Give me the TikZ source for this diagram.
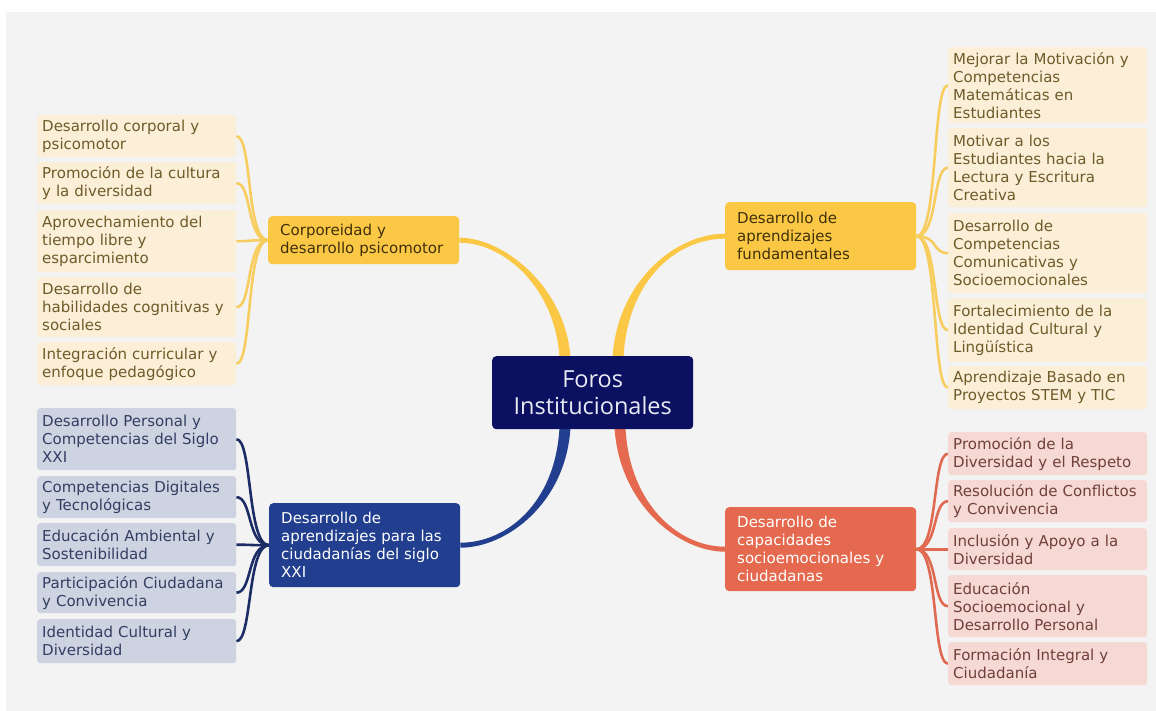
\documentclass[tikz,border=0pt]{standalone}
\usepackage{fontspec}
\setmainfont{DejaVu Sans}
\newfontfamily\centerfont{Open Sans}
\usetikzlibrary{calc}
\definecolor{bgc}{HTML}{F3F3F3}
\definecolor{mainY}{HTML}{FBC846}
\definecolor{txtMY}{HTML}{3F300A}
\definecolor{leafY}{HTML}{FBEFD8}
\definecolor{txtY}{HTML}{6E5B29}
\definecolor{lnY}{HTML}{F6CD5E}
\definecolor{mainB}{HTML}{213F8E}
\definecolor{leafB}{HTML}{CDD3E1}
\definecolor{txtB}{HTML}{333E62}
\definecolor{lnB}{HTML}{1C2C64}
\definecolor{mainC}{HTML}{E4694F}
\definecolor{leafC}{HTML}{F6D9D4}
\definecolor{txtC}{HTML}{713F3A}
\definecolor{lnC}{HTML}{E06A51}
\definecolor{centerc}{HTML}{0B1160}
\definecolor{centertxt}{HTML}{E8EAF4}
\pgfdeclarelayer{back}
\pgfsetlayers{back,main}
\begin{document}
\begin{tikzpicture}[x=1pt,y=-1pt,
  leaf/.style={rectangle, rounded corners=3pt, anchor=north west, text width=189pt,
    inner xsep=5pt, inner ysep=2pt, align=left, font=\fontsize{15}{18}\selectfont},
  lY/.style={leaf, fill=leafY, text=txtY},
  lB/.style={leaf, fill=leafB, text=txtB},
  lC/.style={leaf, fill=leafC, text=txtC},
  mainbox/.style={rectangle, rounded corners=4pt, anchor=north west, text width=167pt,
    inner xsep=12pt, inner ysep=2pt, align=left, font=\fontsize{15}{18}\selectfont},
  twig/.style={line width=2.6pt}
]
\useasboundingbox (0,0) rectangle (1156,711);

% leaves: corporeidad
\node[lY, minimum height=42] (y1) at (37,115) {Desarrollo corporal y\\psicomotor};
\node[lY, minimum height=42] (y2) at (37,162) {Promoción de la cultura\\y la diversidad};
\node[lY, minimum height=62] (y3) at (37,210) {Aprovechamiento del\\tiempo libre y\\esparcimiento};
\node[lY, minimum height=60] (y4) at (37,277) {Desarrollo de\\habilidades cognitivas y\\sociales};
\node[lY, minimum height=43] (y5) at (37,342) {Integración curricular y\\enfoque pedagógico};
% leaves: ciudadanias
\node[lB, minimum height=62] (b1) at (37,408) {Desarrollo Personal y\\Competencias del Siglo\\XXI};
\node[lB, minimum height=42] (b2) at (37,476) {Competencias Digitales\\y Tecnológicas};
\node[lB, minimum height=43] (b3) at (37,523) {Educación Ambiental y\\Sostenibilidad};
\node[lB, minimum height=41] (b4) at (37,572) {Participación Ciudadana\\y Convivencia};
\node[lB, minimum height=44] (b5) at (37,619) {Identidad Cultural y\\Diversidad};
% leaves: fundamentales
\node[lY, minimum height=76] (f1) at (948,47) {Mejorar la Motivación y\\Competencias\\Matemáticas en\\Estudiantes};
\node[lY, minimum height=79] (f2) at (948,128) {Motivar a los\\Estudiantes hacia la\\Lectura y Escritura\\Creativa};
\node[lY, minimum height=80] (f3) at (948,213) {Desarrollo de\\Competencias\\Comunicativas y\\Socioemocionales};
\node[lY, minimum height=64] (f4) at (948,298) {Fortalecimiento de la\\Identidad Cultural y\\Lingüística};
\node[lY, minimum height=43] (f5) at (948,366) {Aprendizaje Basado en\\Proyectos STEM y TIC};
% leaves: capacidades
\node[lC, minimum height=43] (c1) at (948,432) {Promoción de la\\Diversidad y el Respeto};
\node[lC, minimum height=42] (c2) at (948,480) {Resolución de Conflictos\\y Convivencia};
\node[lC, minimum height=42] (c3) at (948,528) {Inclusión y Apoyo a la\\Diversidad};
\node[lC, minimum height=62] (c4) at (948,575) {Educación\\Socioemocional y\\Desarrollo Personal};
\node[lC, minimum height=43] (c5) at (948,642) {Formación Integral y\\Ciudadanía};

% main nodes
\node[mainbox, fill=mainY, text=txtMY, minimum height=48] (corp) at (268,216) {Corporeidad y\\desarrollo psicomotor};
\node[mainbox, fill=mainY, text=txtMY, minimum height=68] (fund) at (725,202) {Desarrollo de\\aprendizajes\\fundamentales};
\node[mainbox, fill=mainB, text=white, minimum height=84] (ciud) at (269,503) {Desarrollo de\\aprendizajes para las\\ciudadanías del siglo\\XXI};
\node[mainbox, fill=mainC, text=white, minimum height=84] (cap) at (725,507) {Desarrollo de\\capacidades\\socioemocionales y\\ciudadanas};

% center
\node[rectangle, rounded corners=4pt, anchor=north west, fill=centerc, text=centertxt,
  minimum width=201pt, minimum height=73pt, inner sep=0pt, align=center,
  font=\centerfont\fontsize{23.5}{27}\selectfont] (center) at (492,356) {Foros\\Institucionales};

\coordinate (aY1) at ($(center.north west)+(73,2)$);
\coordinate (aY2) at ($(center.north west)+(126,2)$);
\coordinate (aB) at ($(center.south west)+(73,-2)$);
\coordinate (aC) at ($(center.south west)+(128,-2)$);

\begin{pgfonlayer}{back}
\fill[white] (0,0) rectangle (1156,711);
\fill[bgc] (6,12) rectangle (1156,711);

% main ribbons
\fill[mainY] ($(aY1)+(-5.5,0)$) .. controls ($(aY1)+(-9.5,-70)$) and ($(corp.east)+(45,2.5)$) .. ($(corp.east)+(0,2.5)$)
  -- ($(corp.east)+(0,-2.5)$) .. controls ($(corp.east)+(45,-2.5)$) and ($(aY1)+(1,-70)$) .. ($(aY1)+(5.5,0)$) -- cycle;
\fill[mainY] ($(aY2)+(-5.5,0)$) .. controls ($(aY2)+(-1,-76)$) and ($(fund.west)+(-50,-2.5)$) .. ($(fund.west)+(0,-2.5)$)
  -- ($(fund.west)+(0,2.5)$) .. controls ($(fund.west)+(-50,2.5)$) and ($(aY2)+(9,-76)$) .. ($(aY2)+(5.5,0)$) -- cycle;
\fill[mainB] ($(aB)+(-5.5,0)$) .. controls ($(aB)+(-9.5,76)$) and ($(ciud.east)+(46,-2.5)$) .. ($(ciud.east)+(0,-2.5)$)
  -- ($(ciud.east)+(0,2.5)$) .. controls ($(ciud.east)+(46,2.5)$) and ($(aB)+(1,76)$) .. ($(aB)+(5.5,0)$) -- cycle;
\fill[mainC] ($(aC)+(-5.5,0)$) .. controls ($(aC)+(-1,76)$) and ($(cap.west)+(-47,2.5)$) .. ($(cap.west)+(0,2.5)$)
  -- ($(cap.west)+(0,-2.5)$) .. controls ($(cap.west)+(-47,-2.5)$) and ($(aC)+(9,76)$) .. ($(aC)+(5.5,0)$) -- cycle;

% leaf connectors
\foreach \l in {y1,y2,y3,y4,y5}
  \draw[twig, lnY] (corp.west) .. controls +(-22,0) and +(16,0) .. (\l.east);
\foreach \l in {b1,b2,b3,b4,b5}
  \draw[twig, lnB] (ciud.west) .. controls +(-22,0) and +(16,0) .. (\l.east);
\foreach \l in {f1,f2,f3,f4,f5}
  \draw[twig, lnY] (fund.east) .. controls +(22,0) and +(-16,0) .. (\l.west);
\foreach \l in {c1,c2,c3,c4,c5}
  \draw[twig, lnC] (cap.east) .. controls +(22,0) and +(-16,0) .. (\l.west);
\end{pgfonlayer}
\end{tikzpicture}
\end{document}
